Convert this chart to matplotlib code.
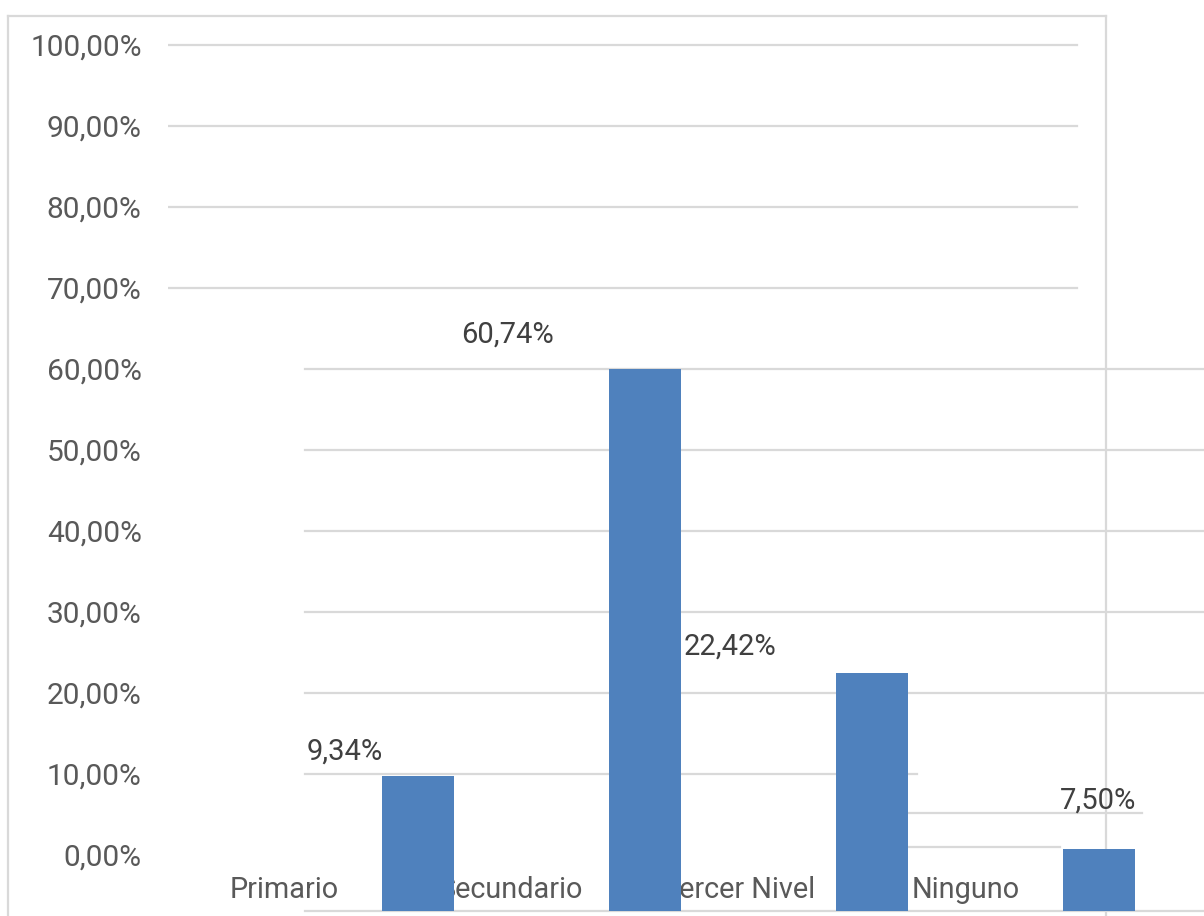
import matplotlib
matplotlib.use("Agg")
import matplotlib.pyplot as plt
from matplotlib.lines import Line2D
import numpy as np

plt.rcParams['font.family'] = ['Roboto', 'DejaVu Sans']

categories = ['Primario', 'Secundario', 'Tercer Nivel', 'Ninguno']
value_labels = ['9,34%', '60,74%', '22,42%', '7,50%']
bar_tops = [9.75, 60.0, 22.5, 0.75]   # bar heights as drawn in the picture (%)
yticks = [0, 10, 20, 30, 40, 50, 60, 70, 80, 90, 100]

bar_color = '#4F81BD'
grid_color = '#D9D9D9'
base = -6.9

fig = plt.figure(figsize=(12.04, 9.16), dpi=100)
ax = fig.add_axes([168 / 1204, 0, 1036 / 1204, 1])
ax.patch.set_visible(False)
ax.set_xlim(-0.502, 4.062)
ax.set_ylim(-7.53, 105.56)
for s in ax.spines.values():
    s.set_visible(False)

x = np.arange(len(categories))

# gridlines (the picture has them broken up)
for t in [100, 90, 80, 70]:
    ax.axhline(t, 0, 0.877, color=grid_color, lw=1.6, zorder=0.5)
for t in [60, 50, 40, 30, 20]:
    ax.axhline(t, 0.132, 1, color=grid_color, lw=1.6, zorder=0.5)
ax.axhline(10, 0.132, 0.723, color=grid_color, lw=1.6, zorder=0.5)
ax.axhline(5.19, 0.714, 0.940, color=grid_color, lw=1.6, zorder=0.5)
ax.axhline(0.99, 0.714, 0.861, color=grid_color, lw=1.6, zorder=0.5)
ax.axhline(base, 0.132, 1, color=grid_color, lw=1.6, zorder=0.5)

# category labels sit behind the bars
for i, c in enumerate(categories):
    ax.text(x[i] + 0.01, -4.32, c, ha='center', va='center', fontsize=20.8,
            color='#595959', zorder=1)

heights = [t - base for t in bar_tops]
bars = ax.bar(x + 0.6, heights, 0.317, bottom=base, color=bar_color, zorder=2)

dx = [-52.6, -99.4, -102.2, -0.7]
dy = [17.3, 24.5, 18.7, 34.6]
for i, r in enumerate(bars):
    ax.annotate(value_labels[i], (r.get_x() + r.get_width() / 2, bar_tops[i]),
                xytext=(dx[i], dy[i]), textcoords='offset points',
                ha='center', va='center', fontsize=21, color='#404040', zorder=3)

ax.set_xticks([])
ax.set_yticks(yticks)
ax.set_yticklabels([f'{t},00%' for t in yticks], fontsize=21.5, color='#595959')
ax.tick_params(axis='y', length=0, pad=19)

# outer frame pieces, behind the bars
for xs, ys in [([8, 8], [0, 16]), ([8, 1106], [16, 16]), ([1106, 1106], [0, 16])]:
    if xs[0] == xs[1]:
        line = Line2D([xs[0] / 1204] * 2, [0, 1 - 16 / 916], color=grid_color, lw=1.6, zorder=-1)
    else:
        line = Line2D([xs[0] / 1204, xs[1] / 1204], [1 - 16 / 916] * 2, color=grid_color, lw=1.6, zorder=-1)
    fig.add_artist(line)

fig.savefig('out.png', dpi=100)
